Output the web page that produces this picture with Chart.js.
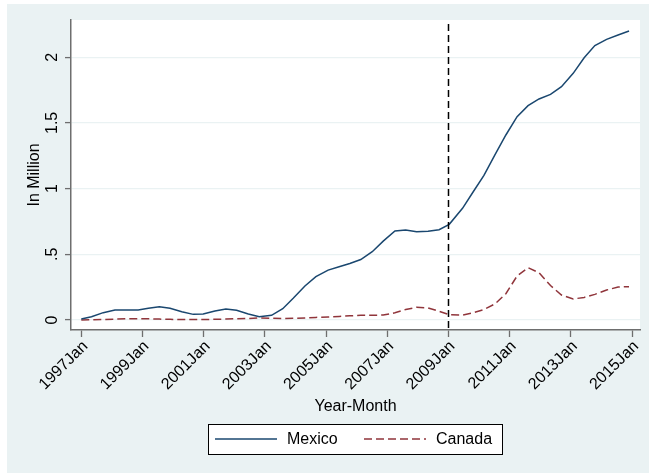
<!DOCTYPE html>
<html>
<head>
<meta charset="utf-8">
<script src="https://cdn.jsdelivr.net/npm/chart.js@4.4.1/dist/chart.umd.min.js"></script>
<style>
html,body{margin:0;padding:0;background:#fff;overflow:hidden}
#wrap{width:649px;height:473px;position:relative}
canvas{display:block}
</style>
</head>
<body>
<div id="wrap"><canvas id="c" width="649" height="473"></canvas></div>
<script>
// Months since 1997 Jan (x positions of the plotted points)
const months = [0,4,8.6,13.2,17.8,22.3,26.3,30.6,34.8,39.4,43.9,47.8,52.4,56.7,60.9,65.5,69.8,74.6,79,83.1,
  87.7,92,96.8,101.1,105.3,109.6,114.1,118.4,123,127.2,131.5,136,140.3,144.3,149.5,153.7,157.9,162.2,166.5,170.9,
  175.2,179.5,184,188.3,192.9,197.2,201.4,206,210.5,214.8];
// Values in millions
const mexico = [0.008,0.025,0.056,0.076,0.077,0.077,0.089,0.100,0.089,0.063,0.043,0.046,0.068,0.084,0.074,0.046,0.025,0.036,0.086,0.165,
  0.259,0.330,0.380,0.406,0.430,0.460,0.520,0.600,0.677,0.685,0.672,0.675,0.687,0.728,0.850,0.976,1.100,1.256,1.408,1.547,
  1.631,1.682,1.717,1.776,1.877,1.996,2.088,2.136,2.169,2.199];
const canada = [0.000,0.002,0.004,0.007,0.009,0.010,0.009,0.007,0.005,0.003,0.003,0.004,0.005,0.007,0.010,0.012,0.015,0.014,0.011,0.013,
  0.016,0.020,0.023,0.027,0.032,0.036,0.036,0.038,0.055,0.080,0.097,0.092,0.066,0.040,0.038,0.055,0.080,0.122,0.200,0.335,
  0.398,0.360,0.262,0.190,0.160,0.172,0.195,0.228,0.251,0.254];
const seriesNames = ['Mexico','Canada'];
const xTickMonths = [0,24,48,72,96,120,144,168,192,216];
const xTickLabels = ['1997Jan','1999Jan','2001Jan','2003Jan','2005Jan','2007Jan','2009Jan','2011Jan','2013Jan','2015Jan'];
const yTickValues = [0,0.5,1,1.5,2];
const yTickLabels = ['0','.5','1','1.5','2'];
const breakMonth = 144;
const xTitle = 'Year-Month';
const yTitle = 'In Million';

const FONT = '"Liberation Sans", Arial, Helvetica, sans-serif';
const BG = '#EAF2F3';
const AXIS = '#6e6e6e';
const COL_MEX = '#1a476f';
const COL_CAN = '#90353b';

const toXY = (vals) => vals.map((v, i) => ({x: months[i], y: v}));

const decor = {
  id: 'decor',
  beforeDraw(chart) {
    const ctx = chart.ctx, a = chart.chartArea;
    ctx.save();
    ctx.fillStyle = '#fff';
    ctx.fillRect(0, 0, chart.width, chart.height);
    ctx.fillStyle = BG;
    ctx.fillRect(7, 4, chart.width - 7, chart.height - 4);
    ctx.fillStyle = '#fff';
    ctx.fillRect(a.left, a.top, a.right - a.left, a.bottom - a.top);
    ctx.restore();
  },
  afterDatasetsDraw(chart) {
    const ctx = chart.ctx, a = chart.chartArea;
    const xs = chart.scales.x;
    const px = xs.getPixelForValue(breakMonth);
    ctx.save();
    ctx.strokeStyle = '#000';
    ctx.lineWidth = 1.5;
    ctx.setLineDash([7, 4]);
    ctx.beginPath();
    ctx.moveTo(px, a.top + 4);
    ctx.lineTo(px, a.bottom);
    ctx.stroke();
    ctx.restore();
  },
  afterDraw(chart) {
    const ctx = chart.ctx;
    const ys = chart.scales.y;
    ctx.save();
    ctx.fillStyle = '#000';
    ctx.font = '16px ' + FONT;
    ctx.textAlign = 'center';
    ctx.textBaseline = 'middle';
    yTickValues.forEach((v, i) => {
      const py = ys.getPixelForValue(v);
      ctx.save();
      ctx.translate(52.5, py);
      ctx.rotate(-Math.PI / 2);
      ctx.fillText(yTickLabels[i], 0, 0);
      ctx.restore();
    });
    // legend
    const lx = 208, ly = 424, lw = 294, lh = 30;
    ctx.fillStyle = '#fff';
    ctx.fillRect(lx, ly, lw, lh);
    ctx.strokeStyle = '#000';
    ctx.lineWidth = 1;
    ctx.strokeRect(lx + 0.5, ly + 0.5, lw, lh);
    const cy = ly + lh / 2;
    ctx.lineWidth = 1.5;
    ctx.strokeStyle = COL_MEX;
    ctx.beginPath(); ctx.moveTo(215, cy); ctx.lineTo(277, cy); ctx.stroke();
    ctx.strokeStyle = COL_CAN;
    ctx.setLineDash([8, 4]);
    ctx.beginPath(); ctx.moveTo(364, cy); ctx.lineTo(426, cy); ctx.stroke();
    ctx.setLineDash([]);
    ctx.fillStyle = '#000';
    ctx.textAlign = 'left';
    ctx.fillText(seriesNames[0], 287, cy + 1);
    ctx.fillText(seriesNames[1], 436, cy + 1);
    ctx.restore();
  }
};

new Chart(document.getElementById('c'), {
  type: 'line',
  data: {
    datasets: [
      {label: seriesNames[0], data: toXY(mexico), borderColor: COL_MEX, borderWidth: 1.5, pointRadius: 0, tension: 0, fill: false},
      {label: seriesNames[1], data: toXY(canada), borderColor: COL_CAN, borderWidth: 1.5, borderDash: [8, 4], pointRadius: 0, tension: 0, fill: false}
    ]
  },
  options: {
    responsive: false,
    animation: false,
    devicePixelRatio: 1,
    layout: {padding: {top: 20, right: 9, bottom: 53, left: 0}},
    plugins: {legend: {display: false}, tooltip: {enabled: false}},
    scales: {
      x: {
        type: 'linear',
        position: 'bottom',
        min: -4.04,
        max: 219.1,
        afterBuildTicks: (s) => { s.ticks = xTickMonths.map(v => ({value: v})); },
        afterFit: (s) => { s.height = 90; },
        ticks: {
          autoSkip: false,
          minRotation: 45,
          maxRotation: 45,
          padding: 0,
          labelOffset: 4,
          color: '#000',
          font: {family: FONT, size: 16},
          callback: (v) => { const i = xTickMonths.indexOf(v); return i >= 0 ? xTickLabels[i] : ''; }
        },
        grid: {color: 'rgba(0,0,0,0)', drawOnChartArea: false, tickLength: 7, tickColor: AXIS, tickWidth: 1.3},
        border: {display: true, color: AXIS, width: 1.5},
        title: {display: true, text: xTitle, color: '#000', font: {family: FONT, size: 16}, padding: {top: 0, bottom: 4}}
      },
      y: {
        type: 'linear',
        min: -0.076,
        max: 2.283,
        afterBuildTicks: (s) => { s.ticks = yTickValues.map(v => ({value: v})); },
        afterFit: (s) => { s.width = 71; },
        ticks: {display: false},
        grid: {color: BG, lineWidth: 1.2, tickLength: 6, tickColor: AXIS, tickWidth: 1.3},
        border: {display: true, color: AXIS, width: 1.5},
        title: {display: true, text: yTitle, color: '#000', font: {family: FONT, size: 16}, padding: {top: 25, bottom: 0}}
      }
    }
  },
  plugins: [decor]
});
</script>
</body>
</html>
